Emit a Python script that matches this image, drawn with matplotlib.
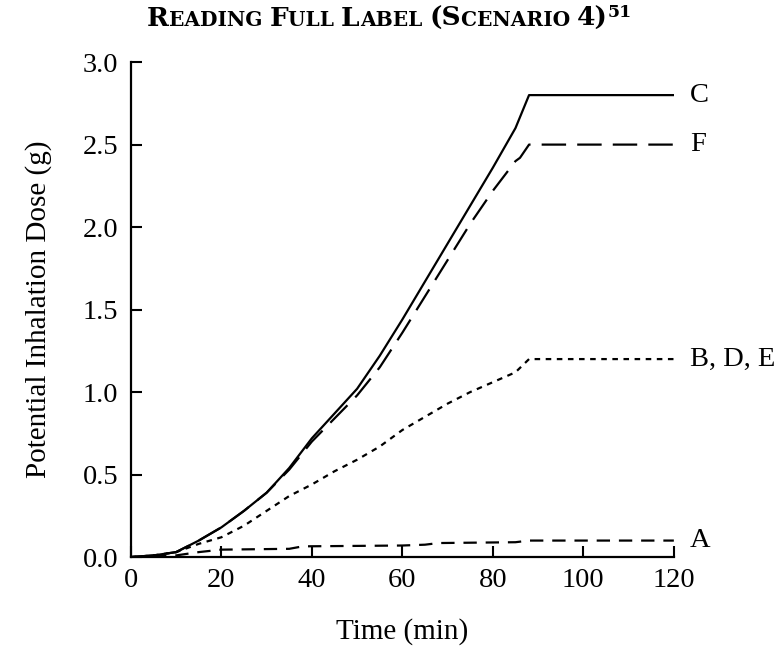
import matplotlib
matplotlib.use("Agg")
import matplotlib.pyplot as plt

plt.rcParams['font.family'] = ['Liberation Serif', 'DejaVu Serif']

# ---- data ----
t_C = [0, 5, 10, 15, 20, 25, 30, 35, 40, 45, 50, 55, 60, 65, 70, 75, 80, 85, 88, 120]
dose_C = [0, 0.01, 0.03, 0.10, 0.18, 0.28, 0.39, 0.54, 0.72, 0.87, 1.02, 1.22, 1.44, 1.67, 1.90, 2.13, 2.36, 2.60, 2.80, 2.80]

t_F = [0, 5, 10, 15, 20, 25, 30, 35, 40, 45, 50, 55, 60, 65, 70, 75, 80, 85, 86, 88, 120]
dose_F = [0, 0.01, 0.03, 0.10, 0.18, 0.28, 0.39, 0.53, 0.70, 0.84, 0.98, 1.15, 1.36, 1.58, 1.80, 2.02, 2.22, 2.40, 2.42, 2.50, 2.50]

t_BDE = [0, 5, 10, 15, 20, 25, 30, 35, 40, 45, 50, 55, 60, 65, 70, 75, 80, 85, 88, 120]
dose_BDE = [0, 0.01, 0.03, 0.08, 0.12, 0.19, 0.28, 0.37, 0.44, 0.52, 0.59, 0.67, 0.77, 0.85, 0.93, 1.00, 1.06, 1.12, 1.20, 1.20]

t_A = [0, 10, 15, 20, 35, 38, 60, 65, 68, 85, 88, 120]
dose_A = [0, 0.01, 0.03, 0.045, 0.05, 0.065, 0.07, 0.075, 0.085, 0.09, 0.10, 0.10]

series_labels = ["C", "F", "B, D, E", "A"]
x_ticks = [0, 20, 40, 60, 80, 100, 120]
y_ticks = [0.0, 0.5, 1.0, 1.5, 2.0, 2.5, 3.0]

fig = plt.figure(figsize=(7.79, 6.47), dpi=100)
ax = fig.add_axes([0.168, 0.139, 0.697, 0.765])

lw = 1.6
ax.plot(t_C, dose_C, color='black', lw=lw, linestyle='-')
ax.plot(t_F, dose_F, color='black', lw=lw, linestyle=(0, (11, 5)))
ax.plot(t_BDE, dose_BDE, color='black', lw=lw, linestyle=(0, (2.5, 2.5)))
ax.plot(t_A, dose_A, color='black', lw=lw, linestyle=(0, (6, 4)))

ends = [dose_C[-1], dose_F[-1], dose_BDE[-1], dose_A[-1]]
for lab, yv in zip(series_labels, ends):
    ax.text(123.5, yv, lab, fontsize=20.5, va='center', ha='left', clip_on=False)

ax.set_xlim(0, 120)
ax.set_ylim(0, 3.0)
ax.set_xticks(x_ticks)
ax.set_yticks(y_ticks)
ax.set_xticklabels([str(v) for v in x_ticks])
ax.set_yticklabels([f"{v:.1f}" for v in y_ticks])
ax.tick_params(direction='in', length=8, width=1.5, labelsize=20.5)
ax.tick_params(axis='x', pad=8)
ax.tick_params(axis='y', pad=9)
for s in ['top', 'right']:
    ax.spines[s].set_visible(False)
for s in ['left', 'bottom']:
    ax.spines[s].set_linewidth(1.6)

ax.set_xlabel("Time (min)", fontsize=21, labelpad=18)
ax.set_ylabel("Potential Inhalation Dose (g)", fontsize=21, labelpad=22)

# ---- small-caps title ----
big, small = 19, 14.5
tfam = ['DejaVu Serif']
parts = [("R", big), ("EADING ", small), ("F", big), ("ULL ", small), ("L", big),
         ("ABEL ", small), ("(S", big), ("CENARIO ", small), ("4)", big)]
fig.canvas.draw()
renderer = fig.canvas.get_renderer()
texts = []
for s, sz in parts:
    t = fig.text(0, 0.96, s, fontsize=sz, fontweight='bold', family=tfam,
                 ha='left', va='baseline')
    texts.append(t)
sup = fig.text(0, 0.974, "51", fontsize=12.5, fontweight='bold', family=tfam,
               ha='left', va='baseline')
texts.append(sup)
widths = [t.get_window_extent(renderer).width for t in texts]
total = sum(widths)
W = fig.get_figwidth() * fig.dpi
x = 0.5 - total / 2 / W
for t, w in zip(texts, widths):
    t.set_x(x)
    x += w / W

fig.savefig("out.png", dpi=100)
